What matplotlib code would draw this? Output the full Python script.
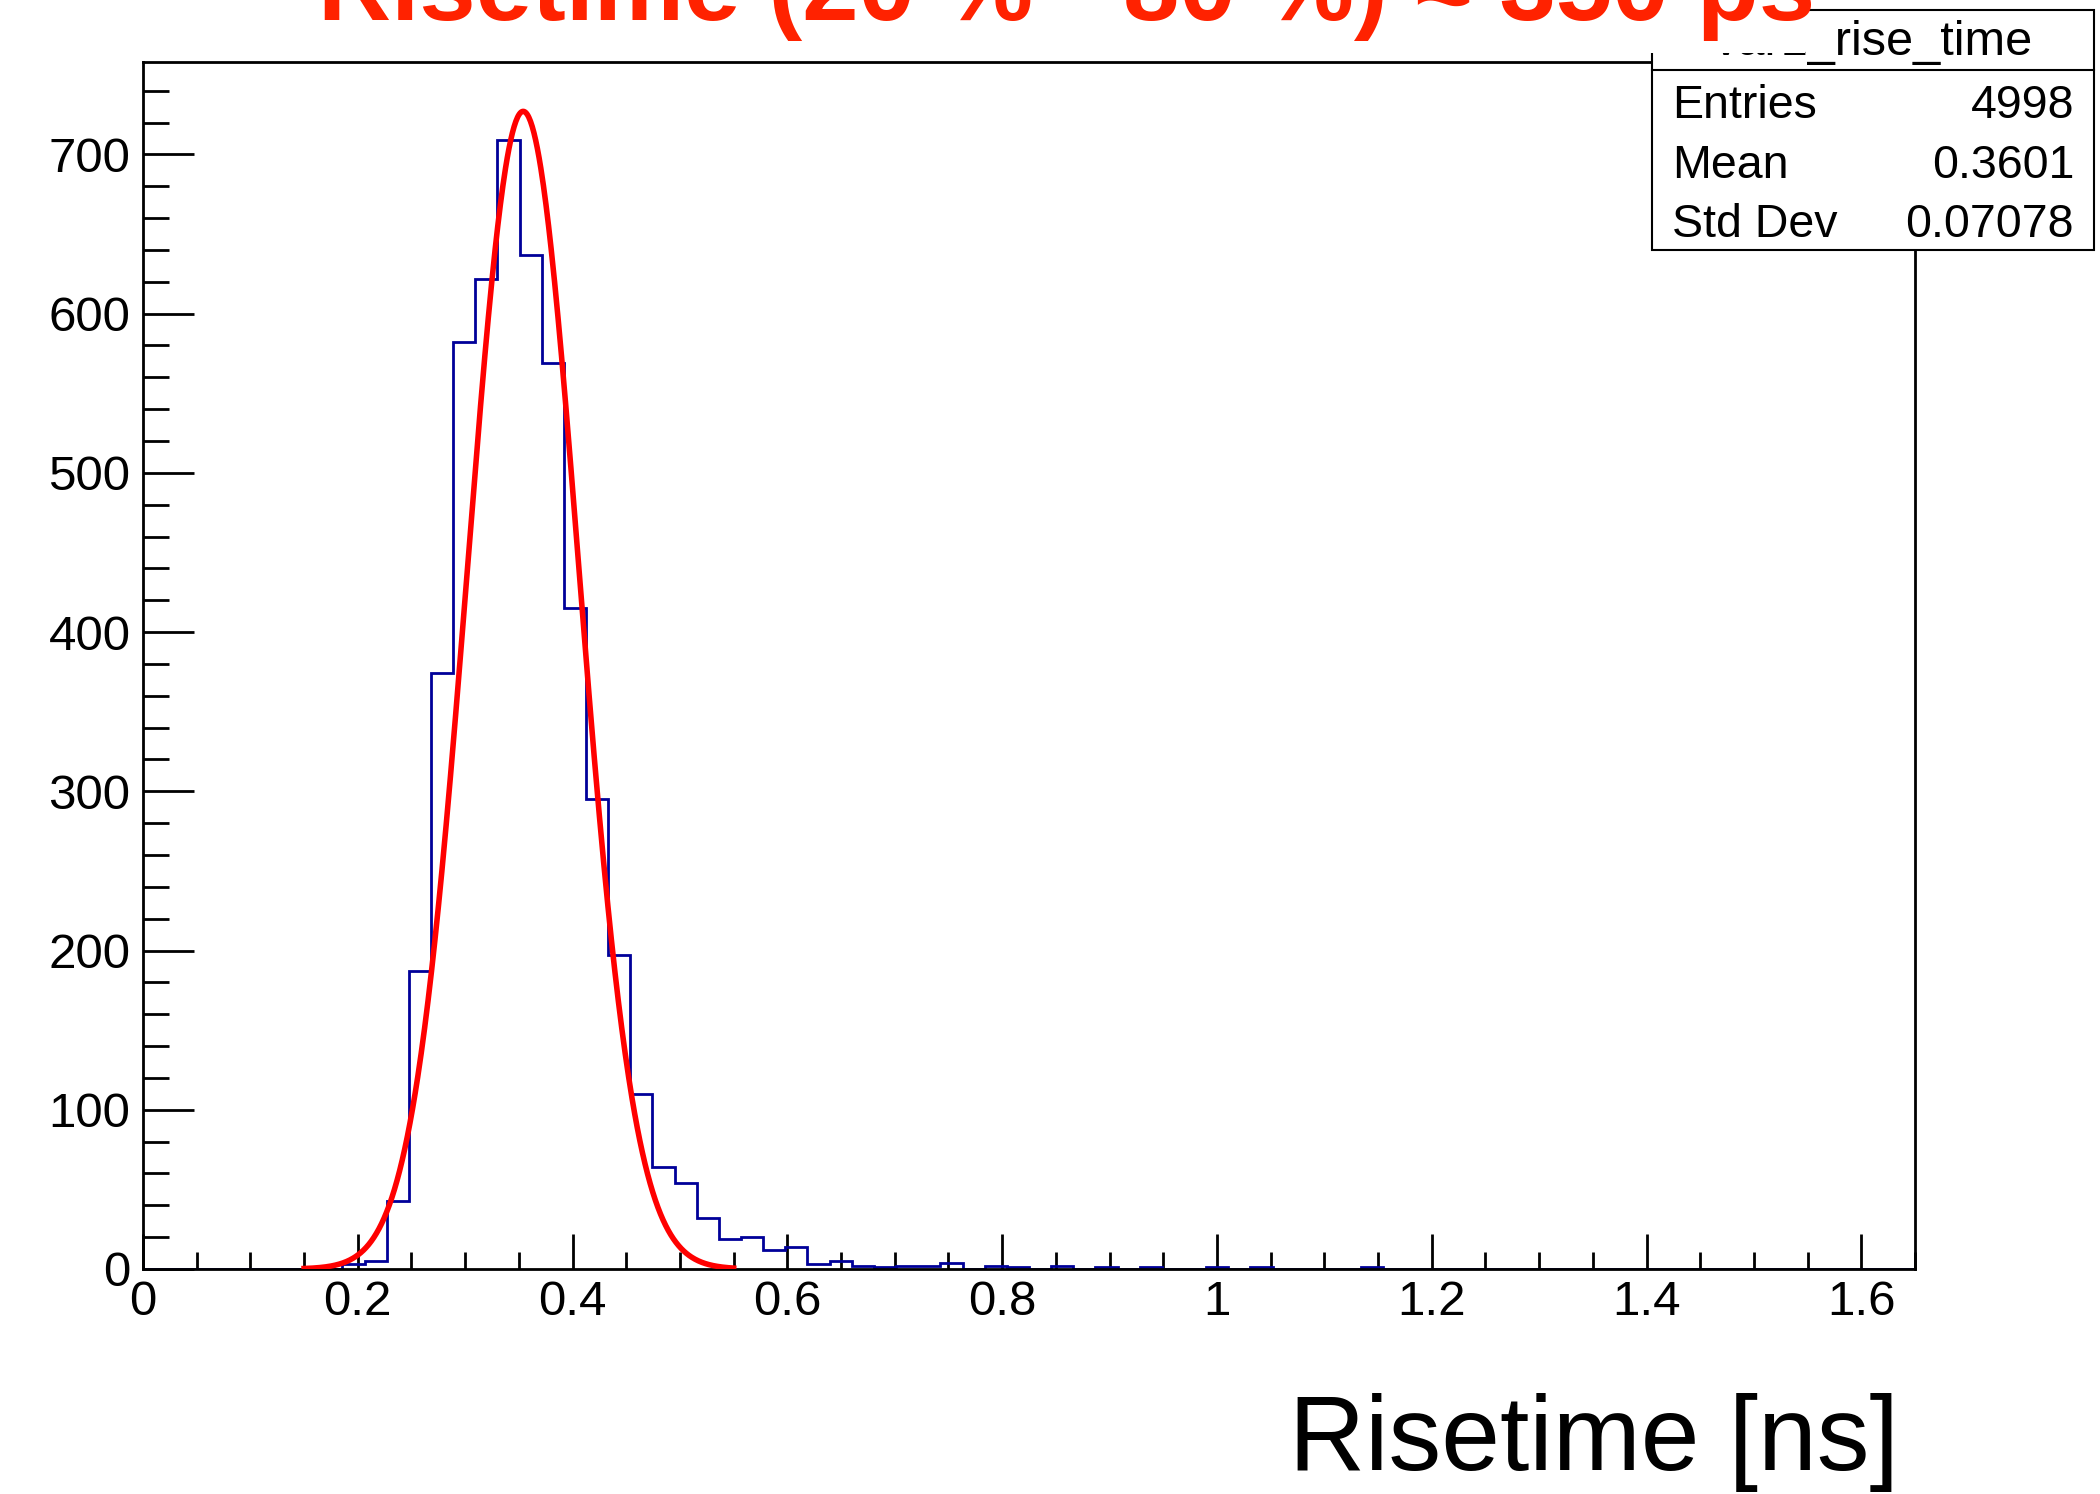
#!/usr/bin/env python3
# Rise time histogram with gaussian fit (ROOT style canvas)

import numpy as np
import matplotlib
matplotlib.use("Agg")
import matplotlib.pyplot as plt
from matplotlib.patches import Rectangle
from matplotlib.lines import Line2D
from matplotlib.ticker import MultipleLocator, FuncFormatter

plt.rcParams['font.family'] = ['Liberation Sans', 'DejaVu Sans']

# Histogram: 80 bins between 0 and 1.65 ns
BIN_LOW = 0.0
BIN_HIGH = 1.65
N_BINS = 80
counts = [
    0, 0, 0, 0, 0, 0, 0, 0, 0, 3,
    5, 43, 187, 374, 582, 622, 709, 637, 569, 415,
    295, 197, 110, 64, 54, 32, 19, 20, 12, 14,
    3, 5, 2, 1, 2, 2, 4, 0, 2, 1,
    0, 2, 0, 1, 0, 1, 0, 0, 1, 0,
    1, 0, 0, 0, 0, 1, 0, 0, 0, 0,
    0, 0, 0, 0, 0, 0, 0, 0, 0, 0,
    0, 0, 0, 0, 0, 0, 0, 0, 0, 0,
]

# Gaussian fit parameters
FIT_CONST = 727
FIT_MEAN = 0.354
FIT_SIGMA = 0.0518
FIT_RANGE = (0.15, 0.55)

# Stats box contents
stats_name = "var1_rise_time"
stats_labels = ["Entries", "Mean", "Std Dev"]
stats_values = ["4998", "0.3601", "0.07078"]

title = "Risetime (20 % - 80 %) \u2248 350 ps"
xlabel = "Risetime [ns]"

W, H = 2100, 1494


def fx(px):
    return px / W


def fy(py):
    # py measured from the top of the canvas
    return 1 - py / H


fig = plt.figure(figsize=(W / 100, H / 100), dpi=100)
ax = fig.add_axes([fx(143), fy(1269), fx(1915 - 143), (1269 - 62) / H])

edges = np.linspace(BIN_LOW, BIN_HIGH, N_BINS + 1)
ax.stairs(counts, edges, color='#000099', lw=2, zorder=2)

xf = np.linspace(FIT_RANGE[0], FIT_RANGE[1], 500)
yf = FIT_CONST * np.exp(-0.5 * ((xf - FIT_MEAN) / FIT_SIGMA) ** 2)
ax.plot(xf, yf, color='#ff0000', lw=4, zorder=3)

ax.set_xlim(0, 1.65)
ax.set_ylim(0, 758)

ax.xaxis.set_major_locator(MultipleLocator(0.2))
ax.xaxis.set_minor_locator(MultipleLocator(0.05))
ax.yaxis.set_major_locator(MultipleLocator(100))
ax.yaxis.set_minor_locator(MultipleLocator(20))
ax.xaxis.set_major_formatter(FuncFormatter(lambda v, p: '%g' % round(v, 2)))
ax.yaxis.set_major_formatter(FuncFormatter(lambda v, p: '%d' % v))

ax.tick_params(which='both', direction='in', top=False, right=False, width=2,
               labelsize=35.5)
ax.tick_params(axis='x', which='major', length=25, pad=8)
ax.tick_params(axis='x', which='minor', length=12.5)
ax.tick_params(axis='y', which='major', length=37, pad=9)
ax.tick_params(axis='y', which='minor', length=19)
for s in ax.spines.values():
    s.set_linewidth(2)

fig.text(fx(1899), fy(1470), xlabel, ha='right', va='baseline', fontsize=76)

# Stats box
fig.add_artist(Rectangle((fx(1652), fy(250)), fx(2094 - 1652), (250 - 10) / H,
                         transform=fig.transFigure, fc='white', ec='black',
                         lw=1.5, zorder=5))
fig.add_artist(Line2D([fx(1652), fx(2094)], [fy(70), fy(70)],
                      transform=fig.transFigure, color='black', lw=1.5,
                      zorder=6))
fig.text(fx(1873), fy(55), stats_name, ha='center', va='baseline',
         fontsize=35, zorder=6)
for i, (lab, val) in enumerate(zip(stats_labels, stats_values)):
    yb = fy(118 + i * 59.5)
    fig.text(fx(1672), yb, lab, ha='left', va='baseline', fontsize=33.5,
             zorder=6)
    fig.text(fx(2074), yb, val, ha='right', va='baseline', fontsize=33.5,
             zorder=6)

# Title pave (white, partly covering the stats header)
fig.add_artist(Rectangle((fx(300), fy(53)), fx(1805 - 300), 53 / H,
                         transform=fig.transFigure, fc='white', ec='none',
                         zorder=7))
fig.text(fx(318), fy(20), title, ha='left', va='baseline', fontsize=73,
         fontweight='bold', color='#ff2200', zorder=8)

fig.savefig('out.png', dpi=100)
